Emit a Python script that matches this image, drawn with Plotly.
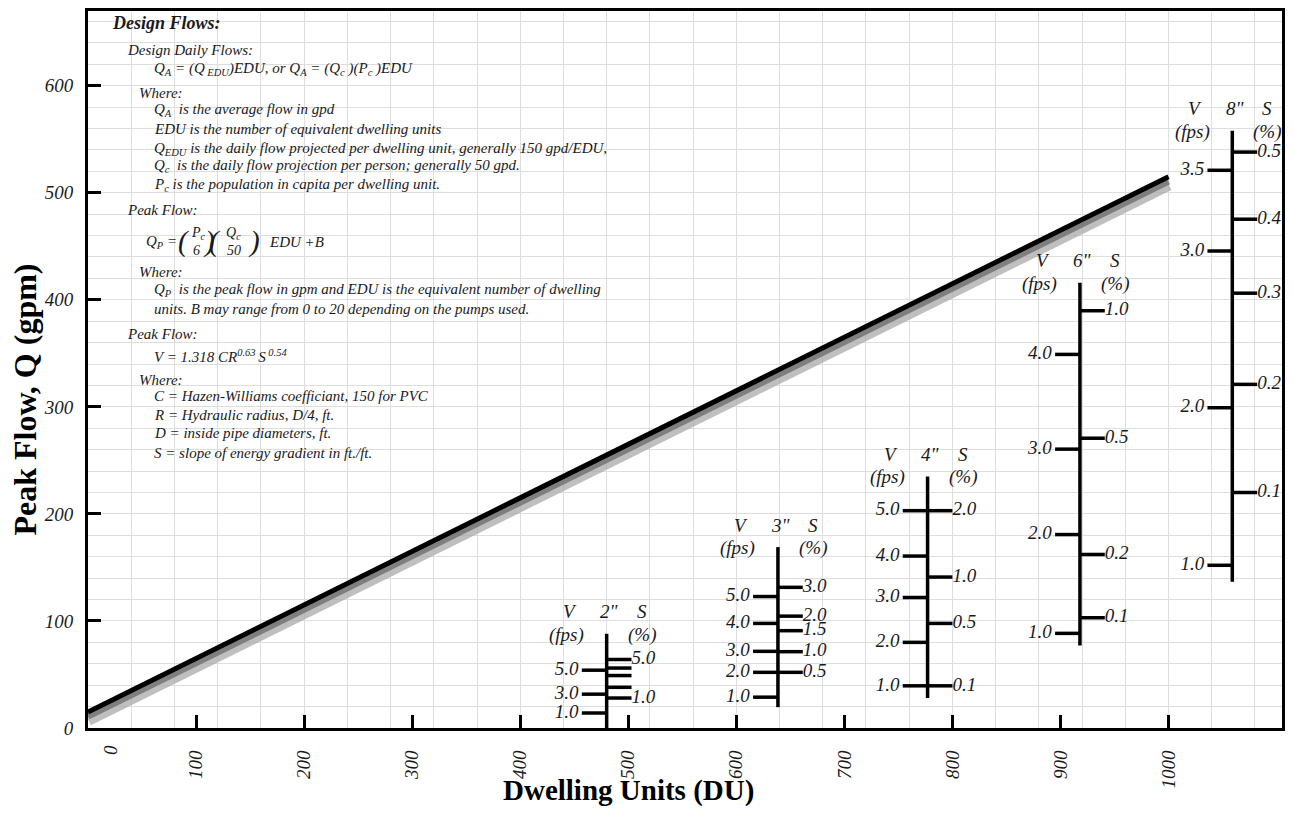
import plotly.graph_objects as go

# The page puts the figure 8px in from each edge, so the figure is made
# 16px smaller (no scrollbars) and every position below is in page pixels.
OFF = 8
W, H = 1293 - 2 * OFF, 817 - 2 * OFF
L, R, T, B = 88, 1284, 8, 728  # plot area edges in page px
SERIF = "Liberation Serif, Times New Roman, serif"
INK = "#1a1a1a"

# ---- peak flow line ----
du_line = [0, 1000]
q_line = [15, 515]

x_ticks = [100, 200, 300, 400, 500, 600, 700, 800, 900, 1000]
y_ticks = [0, 100, 200, 300, 400, 500, 600]

# ---- pipe nomograms (y in gpm) ----
pipe_names = ['2"', '3"', '4"', '6"', '8"']
pipe_du = [480, 638.5, 777, 918, 1059]
pipe_q_bottom = [0, 19.5, 28, 77, 136.7]
pipe_q_top = [88, 169, 235, 416, 558]

v_labels_2 = ["5.0", "3.0", "1.0"]
v_q_2 = [54, 31.6, 14]
s_labels_2 = ["5.0", "", "", "", "1.0"]
s_q_2 = [64, 56, 49, 38, 28]

v_labels_3 = ["5.0", "4.0", "3.0", "2.0", "1.0"]
v_q_3 = [122.8, 97.7, 71.6, 52, 28.8]
s_labels_3 = ["3.0", "2.0", "1.5", "1.0", "0.5"]
s_q_3 = [131.4, 104.5, 90.9, 71.3, 52]

v_labels_4 = ["5.0", "4.0", "3.0", "2.0", "1.0"]
v_q_4 = [203, 160.6, 121.9, 80, 39.4]
s_labels_4 = ["2.0", "1.0", "0.5", "0.1"]
s_q_4 = [203, 141, 97.7, 39.4]

v_labels_6 = ["4.0", "3.0", "2.0", "1.0"]
v_q_6 = [349, 260.5, 180.7, 88.4]
s_labels_6 = ["1.0", "0.5", "0.2", "0.1"]
s_q_6 = [389.8, 270.7, 162.1, 103]

v_labels_8 = ["3.5", "3.0", "2.0", "1.0"]
v_q_8 = [521, 445.6, 299.2, 152]
s_labels_8 = ["0.5", "0.4", "0.3", "0.2", "0.1"]
s_q_8 = [538, 475.3, 406.2, 321, 220]

v_labels = [v_labels_2, v_labels_3, v_labels_4, v_labels_6, v_labels_8]
v_q = [v_q_2, v_q_3, v_q_4, v_q_6, v_q_8]
s_labels = [s_labels_2, s_labels_3, s_labels_4, s_labels_6, s_labels_8]
s_q = [s_q_2, s_q_3, s_q_4, s_q_6, s_q_8]

X_RANGE = [0, 1105]
Y_RANGE = [0, 669.8]
TICK_LEN = 23   # nomogram tick length, DU units
LABEL_GAP = 3   # gap between tick end and its label, DU units


def pxx(p):
    return (p - L) / (R - L)


def pxy(p):
    return (B - p) / (B - T)


fig = go.Figure()

# shadow + line
fig.add_trace(go.Scatter(x=du_line, y=[q - 7 for q in q_line], mode="lines",
                         line=dict(color="rgba(170,170,170,0.75)", width=13),
                         hoverinfo="skip", showlegend=False))
fig.add_trace(go.Scatter(x=du_line, y=[q - 4 for q in q_line], mode="lines",
                         line=dict(color="rgba(120,120,120,0.9)", width=7),
                         hoverinfo="skip", showlegend=False))
fig.add_trace(go.Scatter(x=du_line, y=q_line, mode="lines",
                         line=dict(color="black", width=5),
                         hoverinfo="skip", showlegend=False))

lab_font = dict(family=SERIF, size=19, color=INK, style="italic")

for i, name in enumerate(pipe_names):
    xc = pipe_du[i]
    xs, ys = [xc, xc, None], [pipe_q_bottom[i], pipe_q_top[i], None]
    for q in v_q[i]:
        xs += [xc - TICK_LEN, xc, None]
        ys += [q, q, None]
    for q in s_q[i]:
        xs += [xc, xc + TICK_LEN, None]
        ys += [q, q, None]
    fig.add_trace(go.Scatter(x=xs, y=ys, mode="lines",
                             line=dict(color="black", width=3.5),
                             hoverinfo="skip", showlegend=False))
    fig.add_trace(go.Scatter(x=[xc - TICK_LEN - LABEL_GAP] * len(v_q[i]), y=v_q[i],
                             mode="text", text=v_labels[i], textposition="middle left",
                             textfont=lab_font, hoverinfo="skip", showlegend=False,
                             cliponaxis=False))
    fig.add_trace(go.Scatter(x=[xc + TICK_LEN] * len(s_q[i]), y=s_q[i],
                             mode="text", text=s_labels[i], textposition="middle right",
                             textfont=lab_font, hoverinfo="skip", showlegend=False,
                             cliponaxis=False))
    for txt, dx, dy in [("V", -37, 22), (name, 3, 22), ("S", 35, 22),
                        ("(fps)", -40, -1), ("(%)", 35, -1)]:
        fig.add_annotation(x=xc, y=pipe_q_top[i], xref="x", yref="y", text=txt,
                           xshift=dx, yshift=dy, showarrow=False,
                           xanchor="center", yanchor="middle", font=lab_font)

# ---- text block ----
body = [
    (125, 46.7, "Design Daily Flows:"),
    (151.7, 66.7, "Q<sub>A</sub> = (Q<sub> EDU</sub>)EDU, or Q<sub>A</sub> = (Q<sub>c</sub> )(P<sub>c</sub> )EDU"),
    (136.7, 90, "Where:"),
    (151.7, 107.3, "Q<sub>A</sub>  is the average flow in gpd"),
    (151.7, 126.7, "EDU is the number of equivalent dwelling units"),
    (151.7, 146.7, "Q<sub>EDU</sub> is the daily flow projected per dwelling unit, generally 150 gpd/EDU,"),
    (151.7, 164, "Q<sub>c</sub>  is the daily flow projection per person; generally 50 gpd."),
    (151.7, 182.7, "P<sub>c</sub> is the population in capita per dwelling unit."),
    (125, 208.3, "Peak Flow:"),
    (267, 240, "EDU +B"),
    (136.7, 270, "Where:"),
    (151.7, 288.3, "Q<sub>P</sub>  is the peak flow in gpm and EDU is the equivalent number of dwelling"),
    (151.7, 307.3, "units. B may range from 0 to 20 depending on the pumps used."),
    (125, 332.7, "Peak Flow:"),
    (151.7, 354, "V = 1.318 CR<sup>0.63 </sup>S<sup> 0.54</sup>"),
    (136.7, 378.3, "Where:"),
    (151.7, 395, "C = Hazen-Williams coefficiant, 150 for PVC"),
    (151.7, 413.3, "R = Hydraulic radius, D/4, ft."),
    (151.7, 431.7, "D = inside pipe diameters, ft."),
    (151.7, 451.7, "S = slope of energy gradient in ft./ft."),
]
body_font = dict(family=SERIF, size=15, color=INK, style="italic")
fig.add_annotation(x=pxx(110), y=pxy(20), xref="paper", yref="paper",
                   text="<b>Design Flows:</b>", showarrow=False, xanchor="left",
                   yanchor="middle", font=dict(family=SERIF, size=18, color=INK, style="italic"))
for x0, y0, txt in body:
    fig.add_annotation(x=pxx(x0), y=pxy(y0), xref="paper", yref="paper", text=txt,
                       showarrow=False, xanchor="left", yanchor="middle", font=body_font)

# left side of the peak flow formula, right-aligned against the first bracket
fig.add_annotation(x=pxx(179), y=pxy(240), xref="paper", yref="paper",
                   text="Q<sub>P</sub> =", showarrow=False, xanchor="right",
                   yanchor="middle", font=body_font)

# fraction pieces of the peak flow formula
frac = [
    (184, 239, "(", 29), (209, 239, ")", 29), (215, 239, "(", 29), (254, 239, ")", 29),
    (199, 231, "P<sub>c</sub>", 14), (197, 249, "6", 14),
    (234, 231, "Q<sub>c</sub>", 14), (234, 249, "50", 14),
]
for x0, y0, txt, sz in frac:
    fig.add_annotation(x=pxx(x0), y=pxy(y0), xref="paper", yref="paper", text=txt,
                       showarrow=False, xanchor="center", yanchor="middle",
                       font=dict(family=SERIF, size=sz, color=INK, style="italic"))

# axis titles and the offset "0" label
fig.add_annotation(x=pxx(629), y=pxy(791), xref="paper", yref="paper",
                   text="<b>Dwelling Units (DU)</b>", showarrow=False,
                   xanchor="center", yanchor="middle",
                   font=dict(family=SERIF, size=29, color="black"))
fig.add_annotation(x=pxx(25), y=pxy(398), xref="paper", yref="paper",
                   text="<b>Peak Flow, Q (gpm)</b>", textangle=-90, showarrow=False,
                   xanchor="center", yanchor="middle",
                   font=dict(family=SERIF, size=32, color="black"))
fig.add_annotation(x=pxx(111), y=pxy(743), xref="paper", yref="paper",
                   text="0", textangle=-90, showarrow=False,
                   xanchor="center", yanchor="top", font=lab_font)

axis_common = dict(showline=True, mirror=True, linecolor="black", linewidth=3,
                   ticks="inside", ticklen=13, tickwidth=3, tickcolor="black",
                   showgrid=False, zeroline=False,
                   tickfont=dict(family=SERIF, size=19, color=INK, style="italic"))

fig.update_xaxes(range=X_RANGE, tickmode="array", tickvals=x_ticks,
                 ticktext=[str(v) for v in x_ticks], tickangle=-90,
                 ticklabelstandoff=12,
                 minor=dict(tickmode="linear", tick0=0, dtick=40, showgrid=True,
                            gridcolor="#dedede", gridwidth=1, ticks=""),
                 **axis_common)
fig.update_yaxes(range=Y_RANGE, tickmode="array", tickvals=y_ticks,
                 ticktext=[str(v) for v in y_ticks], ticklabelstandoff=8,
                 minor=dict(tickmode="linear", tick0=0, dtick=20, showgrid=True,
                            gridcolor="#dedede", gridwidth=1, ticks=""),
                 **axis_common)

fig.update_layout(
    width=W, height=H,
    margin=dict(l=L - OFF, r=W - (R - OFF), t=T - OFF, b=H - (B - OFF)),
    plot_bgcolor="white", paper_bgcolor="white",
    showlegend=False,
)

fig.write_html("out.html")
